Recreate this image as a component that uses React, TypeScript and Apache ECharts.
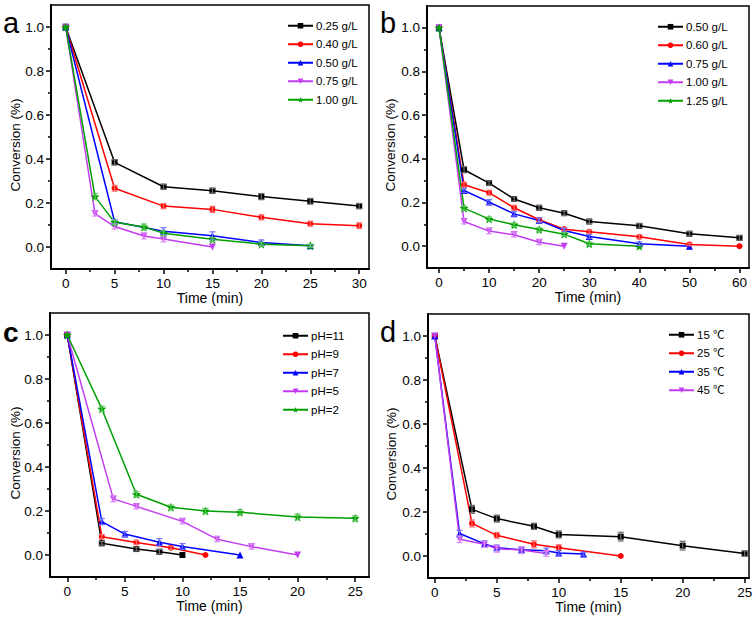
import React, { useEffect, useRef } from "react";
import * as echarts from "echarts";

// ---------- data ----------
const aNames = ["0.25 g/L", "0.40 g/L", "0.50 g/L", "0.75 g/L", "1.00 g/L"];
const aTime = [
  [0, 5, 10, 15, 20, 25, 30],
  [0, 5, 10, 15, 20, 25, 30],
  [0, 5, 10, 15, 20, 25],
  [0, 3, 5, 8, 10, 15],
  [0, 3, 5, 8, 10, 15, 20, 25],
];
const aConv = [
  [1, 0.385, 0.274, 0.256, 0.229, 0.208, 0.186],
  [1, 0.267, 0.186, 0.171, 0.135, 0.106, 0.097],
  [1, 0.115, 0.072, 0.051, 0.02, 0.006],
  [1, 0.152, 0.093, 0.05, 0.036, 0],
  [1, 0.229, 0.112, 0.091, 0.063, 0.035, 0.013, 0.006],
];
const aErr = [
  [0, 0.012, 0.011, 0.011, 0.014, 0.013, 0.012],
  [0, 0.013, 0.012, 0.014, 0.011, 0.011, 0.013],
  [0, 0.01, 0.016, 0.018, 0.012, 0.005],
  [0, 0.011, 0.011, 0.013, 0.013, 0],
  [0, 0.014, 0.01, 0.013, 0.011, 0.009, 0.009, 0.007],
];

const bNames = ["0.50 g/L", "0.60 g/L", "0.75 g/L", "1.00 g/L", "1.25 g/L"];
const bTime = [
  [0, 5, 10, 15, 20, 25, 30, 40, 50, 60],
  [0, 5, 10, 15, 20, 25, 30, 40, 50, 60],
  [0, 5, 10, 15, 20, 25, 30, 40, 50],
  [0, 5, 10, 15, 20, 25],
  [0, 5, 10, 15, 20, 25, 30, 40],
];
const bConv = [
  [1, 0.35, 0.289, 0.216, 0.176, 0.151, 0.113, 0.093, 0.057, 0.038],
  [1, 0.281, 0.245, 0.176, 0.121, 0.078, 0.066, 0.043, 0.008, 0],
  [1, 0.255, 0.202, 0.148, 0.118, 0.072, 0.044, 0.011, 0],
  [1, 0.113, 0.069, 0.052, 0.018, 0],
  [1, 0.174, 0.124, 0.098, 0.076, 0.055, 0.011, 0],
];
const bErr = [
  [0, 0.014, 0.01, 0.01, 0.01, 0.01, 0.009, 0.01, 0.01, 0.011],
  [0, 0.012, 0.011, 0.011, 0.009, 0.008, 0.008, 0.009, 0.006, 0],
  [0, 0.01, 0.011, 0.01, 0.012, 0.01, 0.009, 0.008, 0],
  [0, 0.011, 0.012, 0.01, 0.011, 0],
  [0, 0.01, 0.01, 0.008, 0.008, 0.008, 0.007, 0],
];

const cNames = ["pH=11", "pH=9", "pH=7", "pH=5", "pH=2"];
const cTime = [
  [0, 3, 6, 8, 10],
  [0, 3, 6, 9, 12],
  [0, 3, 5, 8, 10, 15],
  [0, 4, 6, 10, 13, 16, 20],
  [0, 3, 6, 9, 12, 15, 20, 25],
];
const cConv = [
  [1, 0.053, 0.027, 0.015, 0],
  [1, 0.083, 0.057, 0.033, 0],
  [1, 0.152, 0.095, 0.058, 0.039, 0],
  [1, 0.255, 0.221, 0.153, 0.072, 0.038, 0],
  [1, 0.664, 0.276, 0.217, 0.2, 0.194, 0.173, 0.167],
];
const cErr = [
  [0, 0.008, 0.009, 0.01, 0],
  [0, 0.01, 0.009, 0.008, 0],
  [0, 0.014, 0.012, 0.016, 0.013, 0],
  [0, 0.013, 0.011, 0.012, 0.011, 0.011, 0],
  [0, 0.012, 0.012, 0.01, 0.012, 0.012, 0.013, 0.011],
];

const dNames = ["15 ℃", "25 ℃", "35 ℃", "45 ℃"];
const dTime = [
  [0, 3, 5, 8, 10, 15, 20, 25],
  [0, 3, 5, 8, 10, 15],
  [0, 2, 4, 5, 7, 9, 10, 12],
  [0, 2, 4, 5, 7, 9],
];
const dConv = [
  [1, 0.212, 0.17, 0.135, 0.098, 0.088, 0.047, 0.011],
  [1, 0.148, 0.094, 0.053, 0.038, 0],
  [1, 0.102, 0.055, 0.038, 0.028, 0.024, 0.014, 0.009],
  [1, 0.076, 0.053, 0.033, 0.027, 0.011],
];
const dErr = [
  [0, 0.018, 0.016, 0.014, 0.016, 0.02, 0.02, 0.012],
  [0, 0.016, 0.013, 0.016, 0.013, 0],
  [0, 0.015, 0.014, 0.012, 0.01, 0.012, 0.01, 0.008],
  [0, 0.015, 0.014, 0.016, 0.016, 0.012],
];

const yLabels = [0, 0.2, 0.4, 0.6, 0.8, 1.0];
const yMinor = [0.1, 0.3, 0.5, 0.7, 0.9];
const aXLabels = [0, 5, 10, 15, 20, 25, 30];
const aXMinor = [2.5, 7.5, 12.5, 17.5, 22.5, 27.5];
const bXLabels = [0, 10, 20, 30, 40, 50, 60];
const bXMinor = [5, 15, 25, 35, 45, 55];
const cXLabels = [0, 5, 10, 15, 20, 25];
const cXMinor = [2.5, 7.5, 12.5, 17.5, 22.5];
const dXLabels = [0, 5, 10, 15, 20, 25];
const dXMinor = [2.5, 7.5, 12.5, 17.5, 22.5];

// ---------- styles ----------
const FONT = "'Liberation Sans', Arial, 'Noto Sans CJK SC', sans-serif";
const COLORS = ["#000000", "#ff0000", "#0000ff", "#c23cf0", "#00a000"];
const STAR =
  "path://M50,0 L63,32 L98,35 L71,58 L80,93 L50,74 L20,93 L29,58 L2,35 L37,32 Z";
const DOWN = "path://M0,0 L10,0 L5,9 Z";
const SYMBOLS = ["rect", "circle", "triangle", DOWN, STAR];
const SYMSIZE = [6, 6, 7, 7, 9];
const ERRCOLORS = ["#6e6e6e", "#ff7070", "#7070ff", "#dc8cf8", "#60c860"];

const panels = [
  {
    key: "a", names: aNames, time: aTime, conv: aConv, err: aErr,
    xLabels: aXLabels, xMinor: aXMinor, xmin: -1.5, xmax: 31,
    grid: { left: 51, top: 5, width: 318, height: 264 },
    legend: { left: 287, top: 20 },
    letter: { x: 3, y: 23 }, yname: { x: 15, y: 145 },
  },
  {
    key: "b", names: bNames, time: bTime, conv: bConv, err: bErr,
    xLabels: bXLabels, xMinor: bXMinor, xmin: -2.4, xmax: 61.9,
    grid: { left: 427, top: 6, width: 322, height: 262 },
    legend: { left: 657, top: 21 },
    letter: { x: 380, y: 23 }, yname: { x: 390, y: 145 },
  },
  {
    key: "c", names: cNames, time: cTime, conv: cConv, err: cErr,
    xLabels: cXLabels, xMinor: cXMinor, xmin: -1.5, xmax: 26.2,
    grid: { left: 50, top: 313, width: 319, height: 264 },
    legend: { left: 282, top: 330 },
    letter: { x: 3, y: 332 }, yname: { x: 15, y: 453 },
  },
  {
    key: "d", names: dNames, time: dTime, conv: dConv, err: dErr,
    xLabels: dXLabels, xMinor: dXMinor, xmin: -0.55, xmax: 25.35,
    grid: { left: 428, top: 314, width: 321, height: 264 },
    legend: { left: 668, top: 329 },
    letter: { x: 380, y: 332 }, yname: { x: 391, y: 454 },
  },
];

function buildOption() {
  const grid: any[] = [];
  const xAxis: any[] = [];
  const yAxis: any[] = [];
  const series: any[] = [];
  const legend: any[] = [];
  const graphic: any[] = [];

  panels.forEach((p, i) => {
    grid.push({
      ...p.grid,
      show: true,
      borderColor: "#000",
      borderWidth: 1.5,
      containLabel: false,
    });
    const common = { gridIndex: i, type: "value", splitLine: { show: false } };
    xAxis.push({
      ...common,
      min: p.xmin,
      max: p.xmax,
      position: "bottom",
      axisLine: { show: true, onZero: false, lineStyle: { color: "#000", width: 2 } },
      axisTick: { show: true, inside: false, length: 5, customValues: p.xLabels, lineStyle: { color: "#000", width: 1.5 } },
      axisLabel: { show: true, customValues: p.xLabels, color: "#000", fontSize: 13.5, fontFamily: FONT, margin: 8 },
      name: "Time (min)",
      nameLocation: "middle",
      nameGap: 20,
      nameTextStyle: { color: "#000", fontSize: 14, fontFamily: FONT },
    });
    xAxis.push({
      ...common,
      min: p.xmin,
      max: p.xmax,
      position: "bottom",
      axisLine: { show: false, onZero: false },
      axisTick: { show: true, inside: false, length: 3, customValues: p.xMinor, lineStyle: { color: "#000", width: 1.5 } },
      axisLabel: { show: false },
    });
    yAxis.push({
      ...common,
      min: -0.1,
      max: 1.1,
      position: "left",
      axisLine: { show: true, onZero: false, lineStyle: { color: "#000", width: 2 } },
      axisTick: { show: true, inside: false, length: 5, customValues: yLabels, lineStyle: { color: "#000", width: 1.5 } },
      axisLabel: {
        show: true,
        customValues: yLabels,
        color: "#000",
        fontSize: 13.5,
        fontFamily: FONT,
        margin: 7,
        formatter: (v: number) => v.toFixed(1),
      },
    });
    yAxis.push({
      ...common,
      min: -0.1,
      max: 1.1,
      position: "left",
      axisLine: { show: false, onZero: false },
      axisTick: { show: true, inside: false, length: 3, customValues: yMinor, lineStyle: { color: "#000", width: 1.5 } },
      axisLabel: { show: false },
    });

    const legendNames: string[] = [];
    p.names.forEach((name, s) => {
      const sname = p.key + "|" + name;
      legendNames.push(sname);
      const pts = p.time[s].map((t, k) => [t, p.conv[s][k]]);
      const errPts = p.time[s].map((t, k) => [t, p.conv[s][k], p.err[s][k]]);
      const errColor = ERRCOLORS[s];
      series.push({
        type: "custom",
        name: sname + "_err",
        xAxisIndex: 2 * i,
        yAxisIndex: 2 * i,
        silent: true,
        z: 3,
        data: errPts,
        renderItem: (params: any, api: any) => {
          const x = api.value(0);
          const y = api.value(1);
          const e = api.value(2);
          if (!e) return null;
          const top = api.coord([x, y + e]);
          const bot = api.coord([x, y - e]);
          const w = 3;
          const st = { stroke: errColor, lineWidth: 1.2 };
          return {
            type: "group",
            children: [
              { type: "line", shape: { x1: top[0], y1: top[1], x2: bot[0], y2: bot[1] }, style: st },
              { type: "line", shape: { x1: top[0] - w, y1: top[1], x2: top[0] + w, y2: top[1] }, style: st },
              { type: "line", shape: { x1: bot[0] - w, y1: bot[1], x2: bot[0] + w, y2: bot[1] }, style: st },
            ],
          };
        },
      });
      series.push({
        type: "line",
        name: sname,
        xAxisIndex: 2 * i,
        yAxisIndex: 2 * i,
        data: pts,
        z: 2,
        symbol: SYMBOLS[s],
        symbolSize: SYMSIZE[s],
        showAllSymbol: true,
        color: COLORS[s],
        itemStyle: { color: COLORS[s] },
        lineStyle: { color: COLORS[s], width: 1.5 },
      });
    });

    legend.push({
      data: legendNames,
      orient: "vertical",
      left: p.legend.left,
      top: p.legend.top,
      padding: 0,
      itemWidth: 25,
      itemHeight: 7,
      itemGap: 7,
      selectedMode: false,
      formatter: (n: string) => n.split("|")[1],
      textStyle: { color: "#000", fontSize: 11.5, fontFamily: FONT, padding: [0, 0, 0, -2] },
    });

    graphic.push({
      type: "text",
      x: p.letter.x,
      y: p.letter.y,
      style: {
        text: p.key,
        font: (p.key === "c" ? "bold 28px " : "29px ") + FONT,
        fill: "#000",
        textVerticalAlign: "middle",
        verticalAlign: "middle",
      },
    });
    graphic.push({
      type: "text",
      x: p.yname.x,
      y: p.yname.y,
      rotation: Math.PI / 2,
      style: {
        text: "Conversion (%)",
        font: "13.5px " + FONT,
        fill: "#000",
        align: "center",
        textAlign: "center",
        verticalAlign: "middle",
        textVerticalAlign: "middle",
      },
    });
  });

  return {
    animation: false,
    backgroundColor: "#ffffff",
    grid,
    xAxis,
    yAxis,
    series,
    legend,
    graphic,
  };
}

export default function App() {
  const ref = useRef<HTMLDivElement>(null);
  useEffect(() => {
    if (!ref.current) return;
    const chart = echarts.init(ref.current, null, { renderer: "svg" });
    chart.setOption(buildOption() as any);
    return () => chart.dispose();
  }, []);
  return <div ref={ref} style={{ width: 756, height: 618, position: "absolute", left: 0, top: 0 }} />;
}
